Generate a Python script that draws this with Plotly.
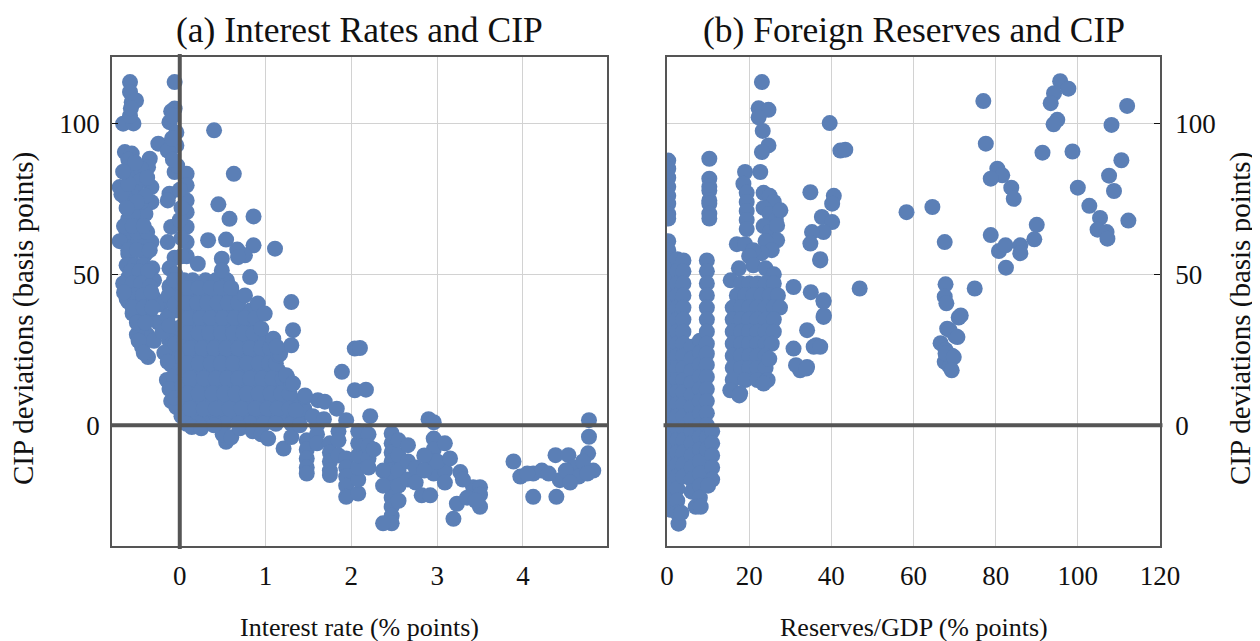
import plotly.graph_objects as go

# ---------------- data: panel (a) interest rate vs CIP deviation ----------------
rate_top = [(-0.58,113.7),(-0.58,110.4),(-0.56,107.0),(-0.51,107.6),(-0.66,99.9),(-0.54,100.0),
            (-0.58,102.5),(-0.57,105.0),(-0.06,113.7),(-0.06,104.9),(-0.10,104.0),(-0.12,100.4),
            (-0.08,102.5),(0.40,97.7),(-0.25,93.3),(-0.04,92.7),(-0.14,91.0),(-0.64,90.5),
            (-0.56,90.0),(-0.60,88.0),(-0.35,88.3),(-0.37,85.5),(-0.06,83.9),(0.08,83.3),
            (0.63,83.3),(-0.54,83.3),(-0.45,85.0)]
rate_upper = [(-0.70,78.9),(-0.33,78.9),(-0.46,81.0),(-0.50,77.0),(0.08,79.5),(-0.12,76.7),
              (-0.64,75.6),(-0.33,73.9),(0.08,74.5),(-0.14,74.5),(0.45,73.2),(0.58,68.4),
              (0.86,69.2),(-0.60,68.4),(-0.45,67.9),(0.08,70.6),(0.08,65.7),(-0.10,65.7),
              (-0.55,72.0),(-0.40,70.0),(-0.68,76.5),(-0.64,60.7),(-0.49,60.7),(-0.33,60.7),
              (-0.14,60.7),(0.08,60.7),(0.33,61.3),(0.54,61.5),(0.67,58.2),(0.86,59.6),
              (1.11,58.5),(-0.60,56.8),(-0.40,56.8),(-0.06,55.5),(0.08,56.0),(0.49,55.2),
              (0.76,56.3),(-0.62,64.0),(-0.50,64.0),(-0.38,64.0),(-0.70,61.0),(-0.55,70.0),
              (-0.45,74.0),(-0.60,58),(-0.50,58),(-0.35,58),(-0.65,66),(-0.55,66),(-0.42,66),
              (-0.60,80),(-0.40,76),(-0.50,74),(-0.62,72),(-0.38,82),(-0.52,87),(-0.66,84),
              (0.02,56),(0.02,62),(0.00,68),(0.02,72),(0.00,78),(-0.03,86),(-0.08,88),
              (-0.04,97),(-0.09,95)]
rate_left = [(-0.62,53),(-0.52,53),(-0.42,53),(-0.32,52),(-0.60,49),(-0.50,49),(-0.40,49),
             (-0.30,48),(-0.58,45),(-0.48,45),(-0.38,45),(-0.60,41),(-0.50,41),(-0.40,41),
             (-0.30,42),(-0.55,37),(-0.45,37),(-0.35,36),(-0.22,40),(-0.25,34),(-0.45,33),
             (-0.38,30),(-0.44,26),(-0.37,22.6),(-0.30,28),(-0.50,30),(-0.62,42),(-0.66,47),
             (-0.57,51),(-0.47,51),(-0.37,51),(-0.55,47),(-0.45,47),(-0.35,46),(-0.53,43),
             (-0.43,43),(-0.33,44),(-0.65,44),(-0.55,39),(-0.42,39),(-0.32,39),(-0.50,34),
             (-0.40,34),(-0.48,28),(-0.42,24),
             (-0.12,52),(-0.05,50),(-0.12,46),(-0.03,45),(-0.10,41),(-0.02,38),(-0.14,36),
             (-0.08,32),(-0.02,30),(-0.12,28),(-0.06,24),(-0.10,20),(-0.03,18),(-0.08,14),
             (-0.02,11),(-0.10,8),(-0.04,6),(-0.15,15),(-0.18,24),(-0.20,31),
             (-0.07,48),(-0.13,43),(-0.06,40),(-0.12,33),(-0.05,27),(-0.14,21),(-0.07,16),
             (-0.12,12),(-0.05,9)]
rate_core = [(0.05,48),(0.15,48),(0.30,48),(0.42,48),(0.55,48),
             (0.03,43),(0.12,43),(0.25,43),(0.38,43),(0.50,43),(0.62,43),
             (0.05,38),(0.18,38),(0.30,38),(0.45,38),(0.58,38),(0.70,38),(0.82,38),
             (0.03,33),(0.15,33),(0.28,33),(0.40,33),(0.55,33),(0.68,33),(0.80,33),
             (0.05,28),(0.20,28),(0.33,28),(0.48,28),(0.60,28),(0.75,28),(0.90,28),(1.00,28),
             (0.03,23),(0.15,23),(0.30,23),(0.42,23),(0.55,23),(0.70,23),(0.85,23),(0.98,23),(1.08,23),
             (0.05,18),(0.20,18),(0.35,18),(0.48,18),(0.62,18),(0.75,18),(0.90,18),(1.02,18),(1.15,18),
             (0.03,13),(0.15,13),(0.30,13),(0.45,13),(0.58,13),(0.72,13),(0.85,13),(1.00,13),(1.12,13),(1.22,13),
             (0.05,8),(0.20,8),(0.35,8),(0.50,8),(0.65,8),(0.80,8),(0.95,8),(1.08,8),(1.20,8),(1.35,8),
             (0.02,3),(0.15,3),(0.30,3),(0.45,3),(0.60,3),(0.75,3),(0.90,3),(1.05,3),(1.20,3),(1.40,3)]
rate_core_b = [(0.10,45.5),(0.22,45.5),(0.36,45.5),(0.48,45.5),(0.60,45.5),
               (0.08,40.5),(0.20,40.5),(0.32,40.5),(0.44,40.5),(0.56,40.5),(0.68,40.5),
               (0.10,35.5),(0.24,35.5),(0.36,35.5),(0.50,35.5),(0.64,35.5),(0.76,35.5),(0.88,35.5),
               (0.09,30.5),(0.22,30.5),(0.34,30.5),(0.48,30.5),(0.62,30.5),(0.74,30.5),(0.86,30.5),
               (0.12,25.5),(0.26,25.5),(0.40,25.5),(0.54,25.5),(0.68,25.5),(0.82,25.5),(0.95,25.5),(1.05,25.5),
               (0.09,20.5),(0.22,20.5),(0.36,20.5),(0.48,20.5),(0.62,20.5),(0.78,20.5),(0.92,20.5),(1.04,20.5),(1.12,20.5),
               (0.12,15.5),(0.28,15.5),(0.42,15.5),(0.55,15.5),(0.68,15.5),(0.82,15.5),(0.96,15.5),(1.08,15.5),(1.20,15.5),
               (0.09,10.5),(0.22,10.5),(0.38,10.5),(0.52,10.5),(0.65,10.5),(0.78,10.5),(0.92,10.5),(1.06,10.5),(1.18,10.5),(1.28,10.5),
               (0.12,5.5),(0.28,5.5),(0.42,5.5),(0.58,5.5),(0.72,5.5),(0.88,5.5),(1.02,5.5),(1.14,5.5),(1.28,5.5),(1.45,5.5),
               (0.08,0.5),(0.22,0.5),(0.38,0.5),(0.52,0.5),(0.68,0.5),(0.82,0.5),(0.98,0.5),(1.12,0.5),(1.30,0.5)]
rate_edge = [(0.21,53.5),(0.49,51.3),(0.68,55.7),(0.82,49.1),(0.76,43.0),(0.91,40.3),(0.99,37.0),
             (0.95,32.0),(1.09,28.7),(1.30,40.8),(1.32,31.5),(1.15,23.2),(1.25,16.0),(1.30,13.8),
             (1.46,9.4),(1.61,8.3),(0.14,-0.6),(0.54,-5.5),(0.50,-3.0),(0.60,-4.0),(0.25,-1.0),
             (0.40,0.0),(0.70,-1.0),(0.85,-2.0),(0.95,-3.0)]
rate_mid = [(2.04,25.4),(2.10,25.6),(1.89,17.7),(2.04,11.6),(2.17,11.8),(2.22,3.0),(1.24,16.6),
            (1.32,13.8),(1.46,9.9),(1.69,7.8),(1.83,5.5),(1.94,1.7),(1.17,23.7),(1.30,26.5),
            (1.13,26.0),(1.03,-4.4),(1.21,-7.7),(1.30,-3.9),(1.48,-5),(1.48,-8),(1.48,-11),
            (1.48,-14),(1.48,-16),(1.60,0),(1.60,-3),(1.60,-6),(1.75,-6),(1.75,-9),(1.75,-12),
            (1.75,-15),(1.75,-16.5),(1.85,-2),(1.85,-5),(1.85,-10),(1.94,-11),(1.94,-14),
            (1.94,-17),(1.94,-20),(1.94,-23.7),(2.08,-22.6),(2.08,-18),(2.08,-14),(2.08,-10),
            (2.08,-6),(2.08,-2),(2.20,-3),(2.20,-7),(2.20,-11),(2.20,-14),(2.26,-8),(1.55,3),
            (1.68,2),(1.40,0),(1.35,5)]
rate_low = [(2.47,-2.7),(2.47,-6),(2.47,-9),(2.47,-12),(2.47,-15),(2.47,-18),(2.47,-21),
            (2.47,-24),(2.47,-27),(2.47,-30),(2.47,-32.5),(2.37,-32.5),(2.37,-15),(2.37,-20),
            (2.55,-5),(2.55,-10),(2.55,-15),(2.55,-20),(2.55,-25),(2.66,-6.6),(2.66,-12),
            (2.66,-18),(2.75,-14),(2.75,-19),(2.82,-23.2),(2.92,-23.2),(2.90,2),(2.96,-4.4),
            (2.96,1),(2.96,-8),(2.96,-12),(2.96,-16),(3.09,-6),(3.09,-15),(3.09,-19),(3.00,-12),
            (3.27,-15.5),(3.42,-20.5),(3.50,-20.5),(3.50,-23),(3.50,-27),(3.23,-26),(3.19,-31),
            (3.35,-24),(2.85,-10),(2.85,-15),(3.15,-11),(3.30,-18),(3.45,-25)]
rate_high = [(3.89,-12),(3.97,-17),(4.12,-16),(4.22,-15),(4.12,-23.7),(4.39,-23.7),(4.38,-9.9),
             (4.53,-9.9),(4.77,1.7),(4.77,-3.8),(4.76,-9.3),(4.82,-15),(4.43,-18.2),(4.60,-14),
             (4.65,-17),(4.70,-12),(4.50,-15),(4.05,-16),(4.30,-16),(4.75,-16),(4.55,-19)]

# ---------------- data: panel (b) reserves/GDP vs CIP deviation ----------------
res_band = [(0.3,87.7),(0.3,85),(0.3,82),(0.3,79),(0.3,76),(0.3,73.4),(0.3,70),(0.3,68.5),
            (0.3,61),(0.3,58),(0.3,55),
            (0.8,52),(0.8,48),(0.8,44),(0.8,40),(0.8,36),(0.8,32),(0.8,28),(0.8,24),(0.8,20),
            (0.8,16),(0.8,12),(0.8,8),(0.8,4),(0.8,0),(0.8,-4),(0.8,-8),(0.8,-12),(0.8,-16),
            (0.8,-20),(0.8,-24),(0.8,-28),
            (2.5,55),(2.5,51),(2.5,47),(2.5,43),(2.5,39),(2.5,35),(2.5,31),(2.5,27),(2.5,23),
            (2.5,19),(2.5,15),(2.5,11),(2.5,7),(2.5,3),(2.5,-1),(2.5,-5),(2.5,-9),(2.5,-13),
            (2.5,-17),(2.5,-21),(2.5,-25),(2.5,-29),(2.8,-32.6),
            (4.0,54.6),(4.0,51),(4.0,47),(4.0,43),(4.0,39),(4.0,35),(4.0,31),(4.0,27),(4.0,23),
            (4.0,19),(4.0,15),(4.0,11),(4.0,7),(4.0,3),(4.0,-1),(4.0,-5),(4.0,-9),(4.0,-13),
            (4.0,-17),(3.5,-29),
            (6.0,26),(6.0,22),(6.0,18),(6.0,14),(6.0,10),(6.0,6),(6.0,2),(6.0,-2),(6.0,-6),
            (6.0,-10),(6.0,-14),(6.0,-18),(6.0,-22),
            (8.0,28),(8.0,24),(8.0,20),(8.0,16),(8.0,12),(8.0,8),(8.0,4),(8.0,0),(8.0,-4),
            (8.0,-8),(8.0,-12),(8.0,-16),(8.0,-20),(8.0,-24),(7.0,-27),(8.2,-27),
            (9.7,54.6),(9.7,51),(9.7,47),(9.7,43),(9.7,39),(9.7,35),(9.7,31),(9.7,27),(9.7,23.7),
            (9.7,20),(9.7,16),(9.7,12),(9.7,8),(9.7,4),(9.7,0),(9.7,-4),(9.7,-8),
            (10.3,88.3),(10.3,81.7),(10.3,79),(10.3,77.8),(10.3,74.5),(10.3,73.4),(10.3,70.1),
            (10.3,68.5),(11.0,-2),(11.0,-6),(11.0,-10),(11.0,-14),(11.0,-18),(10.0,-20)]
res_mid = [(23.1,113.7),(22.3,105.0),(24.7,104.5),(22.3,102.0),(23.3,97.5),(24.7,92.7),
           (23.1,90.5),(22.7,83.9),(19.0,83.9),(18.6,80.0),(19.4,77),(19.4,74),(19.4,71),
           (19.4,68),(19.4,65),(23.5,77),(25.0,76),(26.0,74),(23.5,72),(25.0,70),(26.5,68),
           (27.6,71.2),(23.5,66),(25.0,64),(26.8,66.2),(26.8,61.3),(24.0,61),(25.5,58),
           (23.0,57),(17.0,60),(19.0,60),(21.0,58),(20.0,56),(21.0,53),(24.0,52),(26.0,50),
           (17.5,52),(15.5,48),
           (18,47),(20,47),(22,47),(24,47),(26,47),
           (17,43),(19,43),(21,43),(23,43),(25,43),(27,43),
           (16,39),(18,39),(20,39),(22,39),(24,39),(26,39),(27.5,39),
           (16,35),(18,35),(20,35),(22,35),(24,35),(26,35),
           (16,31),(18,31),(20,31),(22,31),(24,31),(26,31),
           (16,27),(18,27),(20,27),(22,27),(24,27),(25.5,27),
           (16,23),(18,23),(20,23),(22,23),(24,23),
           (16,19),(18,19),(20,19),(22,19),(24,19),
           (16,15),(19,15),(22,15),(24.5,15),
           (15.4,11.6),(17.8,10.5),(23.5,13.8),(17.6,9.9),(24.9,22)]
res_forty = [(30.8,45.8),(35.0,44.1),(38.1,41.4),(38.1,35.9),(34.1,31.5),(35.7,26.0),(30.8,25.4),
             (32.4,18.2),(34.1,19.3),(37.3,54.6),(31.4,19.9),(33.9,18.8),(36.3,26.5),(38.2,36.4),
             (34.9,77.2),(40.6,76.0),(40.2,73.4),(42.2,91.0),(39.6,100.1),(37.7,69.0),(40.2,67.3),
             (38.1,64.0),(35.3,64.0),(34.9,60.2),(37.3,55.0),(43.4,91.3),(37.3,26.0),(46.9,45.3),
             (38.1,41.0)]
res_seventy = [(58.3,70.6),(64.6,72.3),(67.6,60.7),(67.8,46.7),(67.6,42.6),(68.0,40.4),(74.9,45.3),
               (71.0,35.7),(68.2,32.0),(70.2,29.5),(66.6,27.2),(67.8,25.0),(69.4,23.0),(67.6,21.0),
               (68.8,19.5),(68.8,31.5),(70.7,29.2),(67.8,23.8),(69.8,22.6),(69.3,18.2),(71.5,36.4)]
res_high = [(77.0,107.4),(77.6,93.3),(80.4,85.0),(81.6,82.8),(78.8,81.7),(83.8,78.7),(84.4,75.0),
            (78.8,63.0),(80.8,57.7),(82.4,59.6),(82.5,52.2),(86.0,59.6),(86.0,57.0),(89.4,61.6),
            (90.0,66.4),(95.7,114.0),(94.2,110.0),(97.7,111.5),(93.4,106.7),(95.0,101.2),
            (94.1,99.7),(91.4,90.3),(98.7,90.7),(100.0,78.7),(102.8,72.7),(105.4,68.7),
            (104.8,64.8),(107.0,64.0),(107.2,61.8),(108.2,99.5),(112.0,105.8),(110.6,87.8),
            (107.6,82.7),(108.8,77.6),(112.3,67.8)]

rate_ticks = [0, 1, 2, 3, 4]
res_ticks = [0, 20, 40, 60, 80, 100, 120]
cip_ticks = [0, 50, 100]

rate_pts = rate_top + rate_upper + rate_left + rate_core + rate_core_b + rate_edge + rate_mid + rate_low + rate_high
res_pts = res_band + res_mid + res_forty + res_seventy + res_high

# ---------------- figure ----------------
# the page body has an 8px margin, so the figure is sized to fit the window
OFF = 8
W, H = 1260 - OFF, 641 - OFF
FONT = "Liberation Serif"
BLUE = "#5b7fb6"
DARK = "#555555"

def fx(p):
    return (p - OFF) / W

def fy(p):
    return 1 - (p - OFF) / H

lx0, lx1 = fx(112), fx(607)
rx0, rx1 = fx(667), fx(1160)
yb, yt = fy(546), fy(57)

fig = go.Figure()
fig.add_trace(go.Scatter(x=[p[0] for p in rate_pts], y=[p[1] for p in rate_pts], mode="markers",
                         marker=dict(size=16, color=BLUE, line=dict(width=0)),
                         xaxis="x", yaxis="y", showlegend=False))
fig.add_trace(go.Scatter(x=[p[0] for p in res_pts], y=[p[1] for p in res_pts], mode="markers",
                         marker=dict(size=16, color=BLUE, line=dict(width=0)),
                         xaxis="x2", yaxis="y2", showlegend=False))

axis_common = dict(showgrid=True, gridcolor="#d2d2d2", gridwidth=1, zeroline=False,
                   showline=True, linecolor=DARK, linewidth=1.5, mirror=True, automargin=False,
                   tickfont=dict(family=FONT, size=27, color="#111"))

fig.update_layout(
    width=W, height=H, margin=dict(l=0, r=0, t=0, b=0, autoexpand=False),
    plot_bgcolor="white", paper_bgcolor="white",
    xaxis=dict(domain=[lx0, lx1], range=[-0.79, 4.98], tickvals=rate_ticks, ticks="",
               ticklabelstandoff=5, anchor="y", **axis_common),
    yaxis=dict(domain=[yb, yt], range=[-40, 122], tickvals=cip_ticks, ticks="inside",
               ticklen=6, tickcolor="#111", ticklabelstandoff=5, anchor="x", **axis_common),
    xaxis2=dict(domain=[rx0, rx1], range=[0, 120], tickvals=res_ticks, ticks="",
                ticklabelstandoff=5, anchor="y2", **axis_common),
    yaxis2=dict(domain=[yb, yt], range=[-40, 122], tickvals=cip_ticks, ticks="inside",
                ticklen=6, tickcolor="#111", side="right", ticklabelstandoff=8,
                anchor="x2", **axis_common),
)

# thick zero lines drawn above the markers
fig.add_shape(type="line", xref="x domain", yref="y", x0=0, x1=1, y0=0, y1=0,
              line=dict(color=DARK, width=4), layer="above")
fig.add_shape(type="line", xref="x", yref="y domain", x0=0, x1=0, y0=-0.006, y1=1.006,
              line=dict(color=DARK, width=4), layer="above")
fig.add_shape(type="line", xref="x2 domain", yref="y2", x0=-0.007, x1=1.005, y0=0, y1=0,
              line=dict(color=DARK, width=4), layer="above")

ann = [
    dict(text="(a) Interest Rates and CIP", x=(lx0 + lx1) / 2, y=fy(30), size=35.5),
    dict(text="(b) Foreign Reserves and CIP", x=(rx0 + rx1) / 2, y=fy(30), size=35.5),
    dict(text="Interest rate (% points)", x=(lx0 + lx1) / 2, y=fy(627), size=26),
    dict(text="Reserves/GDP (% points)", x=(rx0 + rx1) / 2, y=fy(627), size=26),
]
for a in ann:
    fig.add_annotation(text=a["text"], x=a["x"], y=a["y"], xref="paper", yref="paper",
                       xanchor="center", yanchor="middle", showarrow=False,
                       font=dict(family=FONT, size=a["size"], color="#111"))
for xpos in (fx(24), fx(1241)):
    fig.add_annotation(text="CIP deviations (basis points)", x=xpos, y=fy(319),
                       xref="paper", yref="paper", xanchor="center", yanchor="middle",
                       textangle=-90, showarrow=False,
                       font=dict(family=FONT, size=29, color="#111"))

fig.write_html("out.html")
